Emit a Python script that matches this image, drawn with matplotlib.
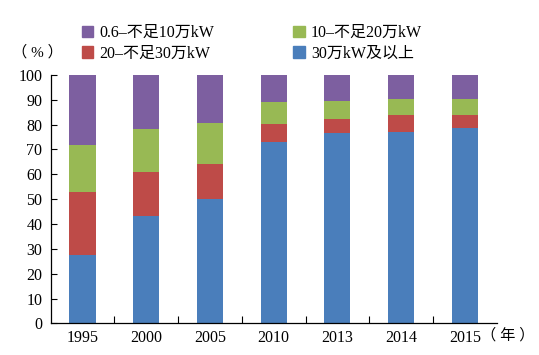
import numpy as np
import matplotlib
matplotlib.use("Agg")
import matplotlib.pyplot as plt
from matplotlib.patches import Patch

plt.rcParams["font.family"] = ["Liberation Serif", "Noto Sans CJK SC", "DejaVu Sans"]

# data (percent shares by unit size class)
years = ["1995", "2000", "2005", "2010", "2013", "2014", "2015"]
big_30 = [27.5, 43.4, 50.2, 72.8, 76.8, 77.2, 78.8]
mid_20_30 = [25.4, 17.5, 14.0, 7.5, 5.5, 6.7, 5.2]
mid_10_20 = [18.9, 17.4, 16.6, 8.6, 7.2, 6.4, 6.3]
small_06_10 = [28.2, 21.7, 19.2, 11.1, 10.5, 9.7, 9.7]

labels = ["30万kW及以上", "20–不足30万kW", "10–不足20万kW", "0.6–不足10万kW"]
colors = ["#4A7EBB", "#BE4B48", "#98B954", "#7D5FA0"]

fig = plt.figure(figsize=(5.39, 3.55), dpi=100)
ax = fig.add_axes([0.094, 0.089, 0.8275, 0.700])

x = np.arange(len(years))
series = [big_30, mid_20_30, mid_10_20, small_06_10]
bottom = np.zeros(len(years))
for vals, lab, col in zip(series, labels, colors):
    ax.bar(x, vals, width=0.41, bottom=bottom, color=col, linewidth=0)
    bottom += np.array(vals)

ax.set_xlim(-0.5, len(years) - 0.5)
ax.set_ylim(0, 100)
ax.set_yticks(np.arange(0, 101, 10))
ax.set_xticks(x)
ax.set_xticklabels(years)
ax.set_xticks(np.arange(0.5, len(years) - 0.5, 1), minor=True)
ax.tick_params(axis="x", which="major", length=0, labelsize=11.5, pad=5)
ax.tick_params(axis="x", which="minor", direction="in", length=5, width=0.8)
ax.tick_params(axis="y", direction="in", length=4, width=0.8, labelsize=11.5, pad=6)
for s in ["top", "right"]:
    ax.spines[s].set_visible(False)
for s in ["left", "bottom"]:
    ax.spines[s].set_linewidth(0.9)

# legend: row1 purple, green; row2 red, blue
order = ["0.6–不足10万kW", "20–不足30万kW", "10–不足20万kW", "30万kW及以上"]
leg_handles = [Patch(color=colors[labels.index(o)]) for o in order]
fig.legend(leg_handles, order, ncol=2, loc="upper left",
           bbox_to_anchor=(0.152, 0.93), frameon=False, fontsize=11.5,
           handlelength=0.7, handleheight=0.7, handletextpad=0.4,
           columnspacing=4.95, labelspacing=0.3, borderpad=0, borderaxespad=0)

fig.text(0.022, 0.852, "（ % ）", fontsize=11, va="center", ha="left")
fig.text(0.893, 0.055, "（ 年 ）", fontsize=11, va="center", ha="left")

fig.savefig("out.png", dpi=100)
